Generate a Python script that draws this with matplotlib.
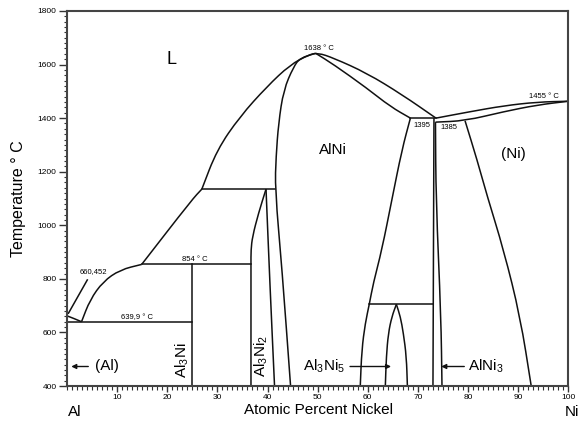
import matplotlib
matplotlib.use('Agg')
import matplotlib.pyplot as plt
from matplotlib.path import Path
from matplotlib.patches import PathPatch
from matplotlib.ticker import MultipleLocator

plt.rcParams['font.family'] = ['Liberation Sans', 'DejaVu Sans']
plt.rcParams['mathtext.fontset'] = 'custom'
plt.rcParams['mathtext.rm'] = 'Liberation Sans'

# phase boundaries, (at.% Ni, temperature in deg C)
liq_al = [(0, 662), (1.4, 652), (2.9, 640)]
liq_al3ni = [(2.9, 640), (4.6, 722), (7.2, 790), (10.6, 834), (14.9, 854)]
liq_al3ni2 = [(14.9, 854), (24.9, 1095), (26.9, 1135)]
liq_dome = [(26.9, 1135), (29.9, 1281), (34.5, 1406), (39.9, 1518), (44.5, 1599),
            (48.2, 1636), (50.0, 1644), (53.2, 1624), (59.8, 1568), (66.8, 1488),
            (73.6, 1400)]
alni_sol_right = [(49.6, 1642), (53.2, 1600), (59.8, 1512), (64.5, 1443), (68.5, 1400)]
alni_left = [(49.6, 1642), (46.5, 1624), (45.2, 1592), (43.2, 1505), (42.2, 1381),
             (41.7, 1256), (41.5, 1135), (42.9, 834), (44.6, 400)]
alni_right = [(68.5, 1400), (66.8, 1281), (64.8, 1095), (62.8, 908), (61.1, 784),
              (60.3, 705), (59.5, 635), (58.8, 535), (58.5, 400)]
al3ni2_left = [(39.7, 1135), (38.2, 1045), (37.0, 958), (36.7, 908), (36.7, 854), (36.7, 400)]
al3ni2_right = [(39.7, 1135), (40.5, 771), (41.4, 400)]
al3ni5_left = [(65.7, 705), (64.8, 659), (64.1, 597), (63.7, 510), (63.5, 400)]
al3ni5_right = [(65.7, 705), (66.5, 659), (67.1, 597), (67.7, 510), (67.9, 400)]
alni3_left = [(73.2, 1400), (73.0, 400)]
alni3_right = [(73.5, 1385), (73.6, 1095), (74.6, 659), (74.8, 400)]
ni_liq = [(73.6, 1400), (80.4, 1424), (87.1, 1446), (93.8, 1460), (100, 1463)]
ni_sol = [(73.5, 1385), (79.4, 1390), (87.1, 1424), (93.8, 1449), (100, 1463)]
ni_solvus = [(79.4, 1390), (81.8, 1244), (83.8, 1110), (87.1, 908), (90.4, 659), (92.6, 400)]

# invariant lines: (x start, x end, temperature)
horizontals = [(0, 25, 638), (14.9, 36.7, 854), (26.9, 41.5, 1135),
               (60.3, 73.0, 705), (68.5, 73.6, 1400)]
al3ni_line = [(25, 854), (25, 400)]
leader_660 = [(0.3, 672), (4.05, 796)]

curves = [liq_al, liq_al3ni, liq_al3ni2, liq_dome, alni_sol_right, alni_left, alni_right,
          al3ni2_left, al3ni2_right, al3ni5_left, al3ni5_right, alni3_left, alni3_right,
          ni_liq, ni_sol, ni_solvus]
straight = [al3ni_line, leader_660]

LINE = '#111111'


def smooth_path(pts):
    # quadratic bezier through segment midpoints, read points used as control points
    if len(pts) < 3:
        return Path(pts)
    verts = [pts[0]]
    codes = [Path.MOVETO]
    mids = [((a[0] + b[0]) / 2, (a[1] + b[1]) / 2) for a, b in zip(pts[:-1], pts[1:])]
    verts.append(mids[0])
    codes.append(Path.LINETO)
    for i in range(1, len(pts) - 1):
        verts += [pts[i], mids[i]]
        codes += [Path.CURVE3, Path.CURVE3]
    verts.append(pts[-1])
    codes.append(Path.LINETO)
    return Path(verts, codes)


fig = plt.figure(figsize=(5.85, 4.21), dpi=100)
ax = fig.add_axes([0.1145, 0.083, 0.857, 0.891])

for c in curves:
    ax.add_patch(PathPatch(smooth_path(c), fill=False, edgecolor=LINE, lw=1.1))
for c in straight:
    xs, ys = zip(*c)
    ax.plot(xs, ys, color=LINE, lw=1.1)
for x0, x1, t in horizontals:
    ax.plot([x0, x1], [t, t], color=LINE, lw=1.1)

ax.set_xlim(0, 100)
ax.set_ylim(400, 1800)
ax.xaxis.set_major_locator(MultipleLocator(10))
ax.xaxis.set_minor_locator(MultipleLocator(1))
ax.yaxis.set_major_locator(MultipleLocator(200))
ax.yaxis.set_minor_locator(MultipleLocator(20))
ax.set_xticks(range(10, 101, 10))
ax.tick_params(axis='both', which='major', labelsize=6, direction='out', width=1, color='#333333', pad=2)
ax.tick_params(axis='y', which='major', length=5.5)
ax.tick_params(axis='y', which='minor', length=2.2, width=0.8, color='#333333')
ax.tick_params(axis='x', which='major', length=4)
ax.tick_params(axis='x', which='minor', length=3, width=0.8, color='#333333')
for s in ax.spines.values():
    s.set_linewidth(1.5)
    s.set_color('#444444')

ax.set_ylabel('Temperature ° C', fontsize=11.5, labelpad=8)
fig.text(0.545, 0.026, 'Atomic Percent Nickel', fontsize=11, ha='center', va='center')
fig.text(0.128, 0.021, 'Al', fontsize=11, ha='center', va='center')
fig.text(0.978, 0.021, 'Ni', fontsize=11, ha='center', va='center')

# region labels
ax.text(20.9, 1617, 'L', fontsize=13, ha='center', va='center')
ax.text(53, 1281, 'AlNi', fontsize=11, ha='center', va='center')
ax.text(89, 1266, '(Ni)', fontsize=11, ha='center', va='center')
ax.text(23.0, 498, r'Al$\mathregular{_3}$Ni', fontsize=11, rotation=90, ha='center', va='center')
ax.text(38.8, 513, r'Al$\mathregular{_3}$Ni$\mathregular{_2}$', fontsize=11, rotation=90,
        ha='center', va='center')

# small temperature notes
small = 5.5
ax.text(50.2, 1661, '1638 ° C', fontsize=small, ha='center', va='center')
ax.text(95.2, 1480, '1455 ° C', fontsize=small, ha='center', va='center')
ax.text(70.8, 1372, '1395', fontsize=small, ha='center', va='center')
ax.text(76.2, 1366, '1385', fontsize=small, ha='center', va='center')
ax.text(22.9, 860, '854 ° C', fontsize=small, ha='left', va='bottom')
ax.text(13.9, 643, '639,9 ° C', fontsize=small, ha='center', va='bottom')
ax.text(5.3, 827, '660,452', fontsize=small, ha='center', va='center')

# arrows
arrow = dict(arrowstyle='-|>', lw=1, color=LINE, mutation_scale=7)
ax.annotate('', xy=(0.3, 473), xytext=(4.8, 473), arrowprops=arrow)
ax.text(5.6, 473, '(Al)', fontsize=11, ha='left', va='center')
ax.annotate('', xy=(65.2, 473), xytext=(55.9, 473), arrowprops=arrow)
ax.text(55.4, 473, r'Al$\mathregular{_3}$Ni$\mathregular{_5}$', fontsize=11, ha='right', va='center')
ax.annotate('', xy=(74.1, 473), xytext=(79.8, 473), arrowprops=arrow)
ax.text(80.0, 473, r'AlNi$\mathregular{_3}$', fontsize=11, ha='left', va='center')

fig.savefig('out.png', dpi=100)
